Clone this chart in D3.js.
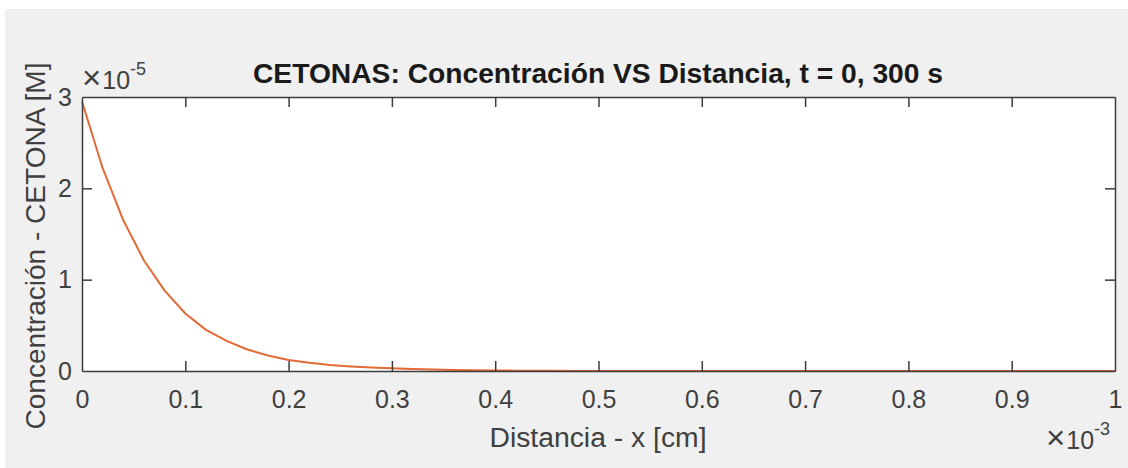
<!DOCTYPE html>
<html>
<head>
<meta charset="utf-8">
<script src="https://cdn.jsdelivr.net/npm/d3@7"></script>
<style>
  html, body { margin: 0; padding: 0; background: #ffffff; }
  svg { display: block; }
  text { font-family: Arial, "Liberation Sans", Helvetica, sans-serif; }
</style>
</head>
<body>
<svg id="chart" width="1128" height="468"></svg>
<script>
// ---- data (distance in units of 1e-3 cm, concentration in units of 1e-5 M) ----
const distance = [0, 0.02, 0.04, 0.06, 0.08, 0.10, 0.12, 0.14, 0.16, 0.18, 0.20,
  0.22, 0.24, 0.26, 0.28, 0.30, 0.32, 0.34, 0.36, 0.38, 0.40,
  0.42, 0.44, 0.46, 0.48, 0.50, 0.52, 0.54, 0.56, 0.58, 0.60,
  0.62, 0.64, 0.66, 0.68, 0.70, 0.72, 0.74, 0.76, 0.78, 0.80,
  0.82, 0.84, 0.86, 0.88, 0.90, 0.92, 0.94, 0.96, 0.98, 1.00];
const concentration = [2.95, 2.22, 1.65, 1.21, 0.88, 0.63, 0.45, 0.33, 0.235, 0.17, 0.12,
  0.09, 0.067, 0.05, 0.038, 0.029, 0.022, 0.016, 0.012, 0.009, 0.006,
  0.004, 0.003, 0.002, 0.001, 0, 0, 0, 0, 0, 0,
  0, 0, 0, 0, 0, 0, 0, 0, 0, 0,
  0, 0, 0, 0, 0, 0, 0, 0, 0, 0];
const xTicks = [0, 0.1, 0.2, 0.3, 0.4, 0.5, 0.6, 0.7, 0.8, 0.9, 1];
const xTickLabels = ["0", "0.1", "0.2", "0.3", "0.4", "0.5", "0.6", "0.7", "0.8", "0.9", "1"];
const yTicks = [0, 1, 2, 3];
const yTickLabels = ["0", "1", "2", "3"];
const titleText = "CETONAS: Concentración VS Distancia, t = 0, 300 s";
const xLabelText = "Distancia - x [cm]";
const yLabelText = "Concentración - CETONA [M]";
const xExponent = "-3";
const yExponent = "-5";

// ---- layout ----
const W = 1128, H = 468;
const plot = { left: 82, right: 1115, top: 97, bottom: 371 };
const axisColor = "#3c3c3c";
const tickLen = 10;

const svg = d3.select("#chart");
svg.append("rect").attr("x", 5).attr("y", 9).attr("width", W - 5).attr("height", H - 9).attr("fill", "#f0f0f0");
svg.append("rect").attr("x", plot.left).attr("y", plot.top)
  .attr("width", plot.right - plot.left).attr("height", plot.bottom - plot.top).attr("fill", "#ffffff");

const x = d3.scaleLinear().domain([0, 1]).range([plot.left, plot.right]);
const y = d3.scaleLinear().domain([0, 3]).range([plot.bottom, plot.top]);

// line
const pts = distance.map((d, i) => [d, concentration[i]]);
svg.append("path").datum(pts)
  .attr("fill", "none").attr("stroke", "#e36a36").attr("stroke-width", 2)
  .attr("stroke-linejoin", "round")
  .attr("d", d3.line().x(d => x(d[0])).y(d => y(d[1])));

// axes (box with inward ticks)
const fmtX = (d, i) => xTickLabels[i];
const fmtY = (d, i) => yTickLabels[i];
function styleAxis(g) {
  g.selectAll("path.domain").attr("stroke", axisColor).attr("stroke-width", 1.5);
  g.selectAll(".tick line").attr("stroke", axisColor).attr("stroke-width", 1.5);
  g.selectAll(".tick text").attr("fill", "#404040").style("font-size", "25px")
    .style("font-family", "Arial, 'Liberation Sans', sans-serif");
}
const gx = svg.append("g").attr("transform", `translate(0,${plot.bottom})`)
  .call(d3.axisBottom(x).tickValues(xTicks).tickFormat(fmtX).tickSizeInner(-tickLen).tickSizeOuter(0).tickPadding(19));
styleAxis(gx);
const gxTop = svg.append("g").attr("transform", `translate(0,${plot.top})`)
  .call(d3.axisTop(x).tickValues(xTicks).tickFormat("").tickSizeInner(-tickLen).tickSizeOuter(0));
styleAxis(gxTop);
const gy = svg.append("g").attr("transform", `translate(${plot.left},0)`)
  .call(d3.axisLeft(y).tickValues(yTicks).tickFormat(fmtY).tickSizeInner(-tickLen).tickSizeOuter(0).tickPadding(10));
styleAxis(gy);
const gyR = svg.append("g").attr("transform", `translate(${plot.right},0)`)
  .call(d3.axisRight(y).tickValues(yTicks).tickFormat("").tickSizeInner(-tickLen).tickSizeOuter(0));
styleAxis(gyR);
// remove the ticks sitting on the box corners
[gx, gxTop].forEach(g => g.selectAll(".tick line").filter(d => d === 0 || d === 1).remove());
[gy, gyR].forEach(g => g.selectAll(".tick line").filter(d => d === 0 || d === 3).remove());
gx.selectAll(".tick text").attr("dy", "0.71em");

// exponents
function exponentLabel(px, py, exp) {
  const t = svg.append("text").attr("x", px).attr("y", py).attr("fill", "#404040").style("font-size", "25px");
  t.append("tspan").style("font-size", "33px").text("\u00d7");
  t.append("tspan").attr("dx", 1).text("10");
  t.append("tspan").attr("dy", -14).style("font-size", "18px").text(exp);
}
exponentLabel(82, 89, yExponent);
exponentLabel(1046, 449, xExponent);

// title
svg.append("text").attr("x", 598).attr("y", 83).attr("text-anchor", "middle")
  .attr("fill", "#1a1a1a").style("font-weight", "bold").style("font-size", "27px")
  .attr("textLength", 690).attr("lengthAdjust", "spacingAndGlyphs")
  .text(titleText);
// x label
svg.append("text").attr("x", 598).attr("y", 447).attr("text-anchor", "middle")
  .attr("fill", "#404040").style("font-size", "27px")
  .attr("textLength", 217).attr("lengthAdjust", "spacingAndGlyphs")
  .text(xLabelText);
// y label
svg.append("text").attr("transform", "translate(45,246) rotate(-90)").attr("text-anchor", "middle")
  .attr("fill", "#404040").style("font-size", "27px")
  .attr("textLength", 367).attr("lengthAdjust", "spacingAndGlyphs")
  .text(yLabelText);
</script>
</body>
</html>
